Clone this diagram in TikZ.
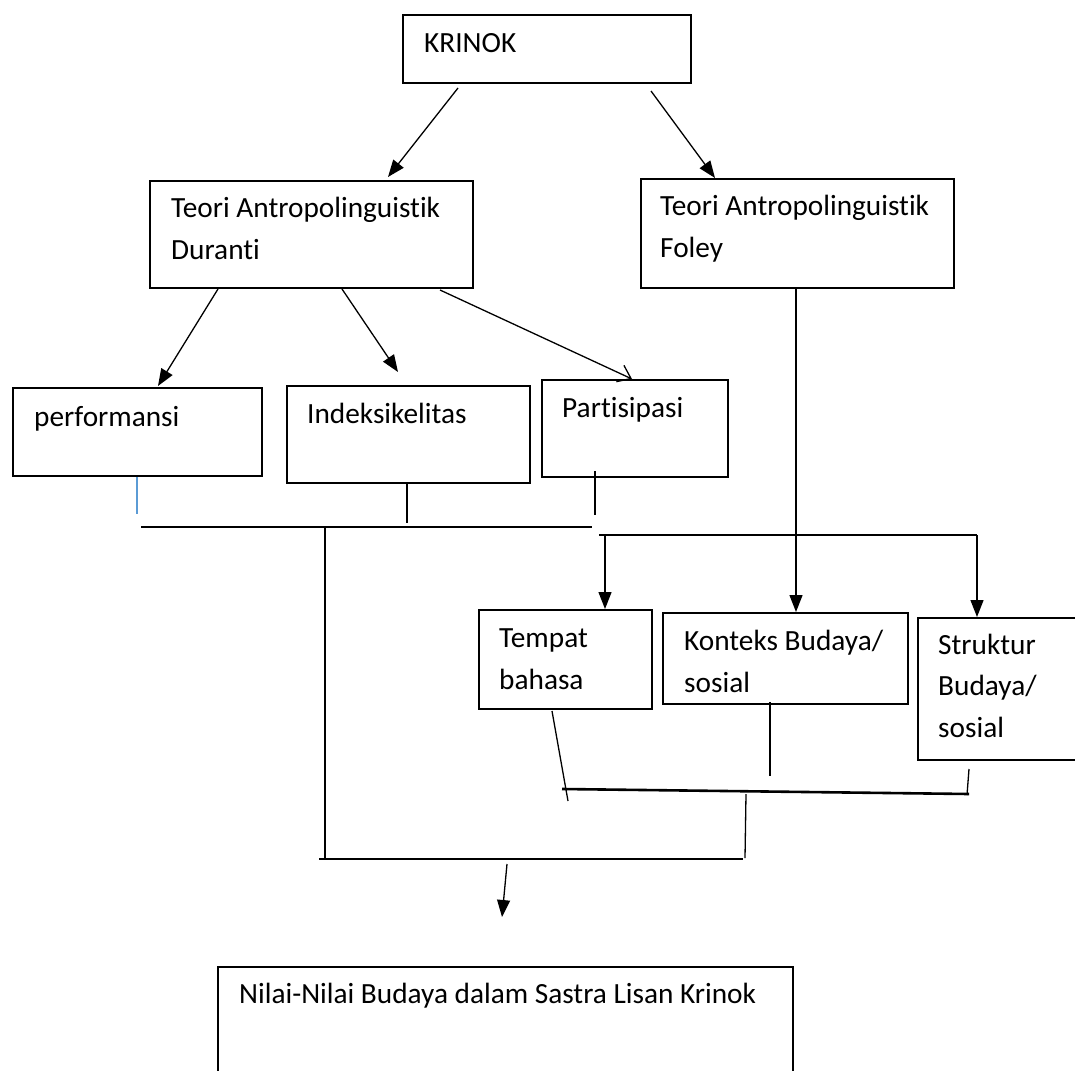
\documentclass[tikz,border=0pt]{standalone}
\usepackage{fontspec}
\setmainfont{Carlito}[Ligatures=NoCommon]
\usetikzlibrary{arrows.meta}
\definecolor{lineblue}{HTML}{5B9BD5}

\begin{document}
\begin{tikzpicture}[x=1pt,y=-1pt,
    box/.style={draw,line width=2pt,inner sep=0pt,anchor=north west},
    lbl/.style={anchor=base west,inner sep=0pt,align=left,
                font=\fontsize{29.3}{41.5}\selectfont},
    link/.style={line width=1.3pt},
    arr/.style={link,-{Triangle[width=13pt,length=17pt]}},
    bar/.style={line width=2.6pt}]

  \clip (0,0) rectangle (1075,1070);

  % boxes
  \node[box,minimum width=288pt,minimum height=68pt]  (krinok)   at (402,14)  {};
  \node[box,minimum width=323pt,minimum height=107pt] (duranti)  at (149,180) {};
  \node[box,minimum width=313pt,minimum height=109pt] (foley)    at (640,178) {};
  \node[box,minimum width=249pt,minimum height=88pt]  (perf)     at (12,387)  {};
  \node[box,minimum width=243pt,minimum height=97pt]  (indeks)   at (286,385) {};
  \node[box,minimum width=186pt,minimum height=97pt]  (partis)   at (541,379) {};
  \node[box,minimum width=173pt,minimum height=99pt]  (tempat)   at (478,609) {};
  \node[box,minimum width=245pt,minimum height=91pt]  (konteks)  at (662,612) {};
  \node[box,minimum width=190pt,minimum height=142pt] (struktur) at (917,617) {};
  \node[box,minimum width=575pt,minimum height=140pt] (nilai)    at (217,966) {};

  % texts (base = last line)
  \node[lbl] (krinokT)   at (424,53)   {KRINOK};
  \node[lbl] (durantiT)  at (171,259)  {Teori Antropolinguistik\\Duranti};
  \node[lbl] (foleyT)    at (660,257)  {Teori Antropolinguistik\\Foley};
  \node[lbl] (perfT)     at (34,426)   {performansi};
  \node[lbl] (indeksT)   at (307,423)  {Indeksikelitas};
  \node[lbl] (partisT)   at (562,417)  {Partisipasi};
  \node[lbl] (tempatT)   at (499,689)  {Tempat\\bahasa};
  \node[lbl] (konteksT)  at (684,692)  {Konteks Budaya/\\sosial};
  \node[lbl] (strukturT) at (938,737)  {Struktur\\Budaya/\\sosial};
  \node[lbl] (nilaiT)    at (239,1003) {Nilai-Nilai Budaya dalam Sastra Lisan Krinok};

  % top arrows
  \draw[arr] ([shift={(56,4)}]krinok.south west) -- ([shift={(239,-3)}]duranti.north west);
  \draw[arr] ([shift={(249,7)}]krinok.south west) -- ([shift={(75,0)}]foley.north west);
  \draw[arr] ([shift={(69,0)}]duranti.south west) -- ([shift={(146,-1)}]perf.north west);
  \draw[arr] ([shift={(193,0)}]duranti.south west) -- ([shift={(112,-13)}]indeks.north west);
  \draw[link,-{Straight Barb[length=12pt,width=18pt]}]
        ([shift={(291,1)}]duranti.south west) -- ([shift={(91,0)}]partis.north west);

  % Foley branch
  \coordinate (fbarL) at (599,535);
  \coordinate (fbarR) at (977,535);
  \draw[bar] (fbarL) -- (fbarR);
  \draw[arr] ([shift={(156,0)}]foley.south west) -- ([shift={(134,0)}]konteks.north west);
  \draw[arr] ([shift={(6,0)}]fbarL) -- ([shift={(127,0)}]tempat.north west);
  \draw[arr] (fbarR) -- ([shift={(60,0)}]struktur.north west);

  % Duranti join
  \coordinate (lbarL) at (141,527);
  \coordinate (lbarR) at (592,527);
  \draw[lineblue,line width=1.1pt] ([shift={(125,0)}]perf.south west) -- ++(0,37);
  \draw[link] ([shift={(121,0)}]indeks.south west) -- ++(0,39);
  \draw[link] ([shift={(54,-7)}]partis.south west) -- ++(0,44);
  \draw[bar] (lbarL) -- (lbarR);

  % Foley join
  \coordinate (rbarL) at (562,789);
  \coordinate (rbarR) at (969,794);
  \draw[link] ([shift={(74,1)}]tempat.south west) -- ++(16,90);
  \draw[link] ([shift={(108,-3)}]konteks.south west) -- ++(0,74);
  \draw[link] ([shift={(52,8)}]struktur.south west) -- ++(-2,26);
  \draw[bar] (rbarL) -- (rbarR);

  % bottom join
  \coordinate (bbarL) at (319,859);
  \coordinate (bbarR) at (743,859);
  \draw[link] (325,527) -- (325,858);
  \draw[link] (746,794) -- (745,858);
  \draw[bar] (bbarL) -- (bbarR);

  \coordinate (downS) at (507,864);
  \coordinate (downE) at (502,917);
  \draw[arr] (downS) -- (downE);
\end{tikzpicture}
\end{document}
